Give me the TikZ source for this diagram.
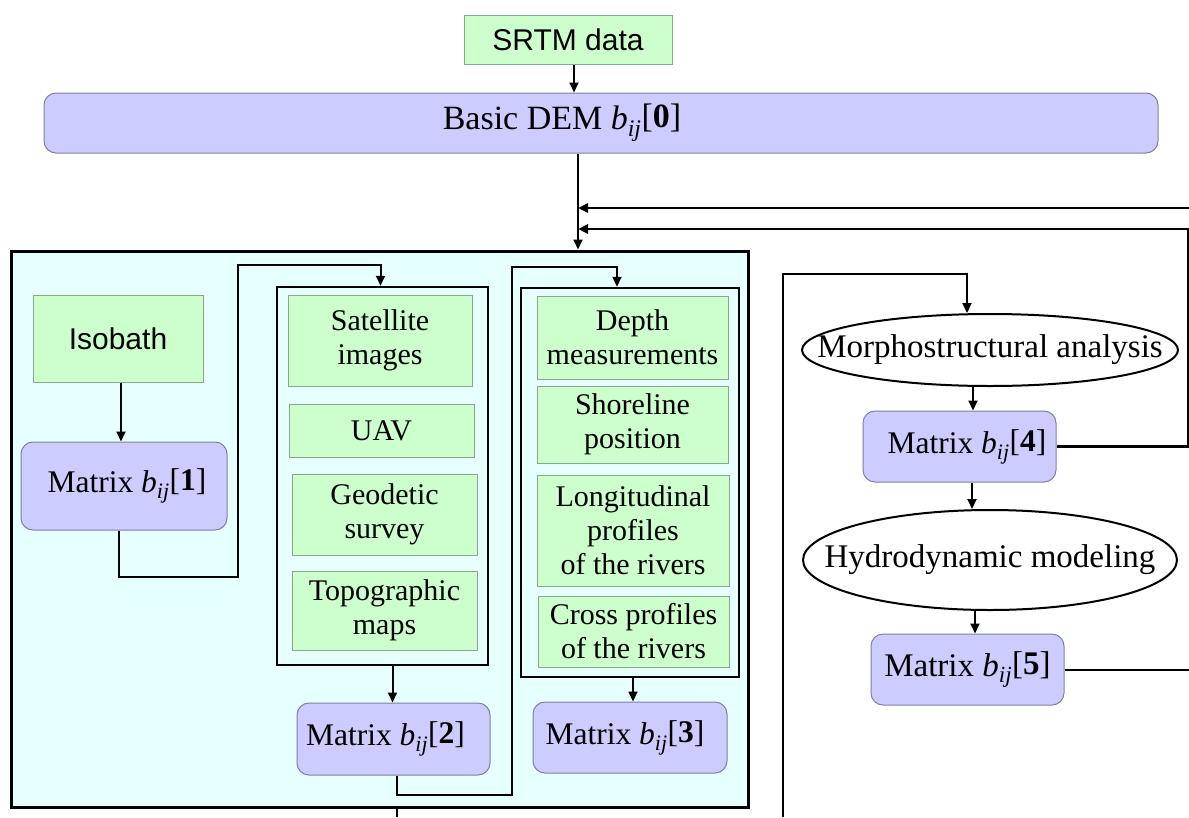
\documentclass[tikz,border=0pt]{standalone}
\usepackage{fontspec}
\setmainfont{Liberation Serif}
\newfontfamily\arialfont{Liberation Sans}
\usetikzlibrary{arrows.meta,shapes.geometric}
\definecolor{boxgreen}{HTML}{CCFFCC}
\definecolor{greenedge}{HTML}{8CA88C}
\definecolor{boxlav}{HTML}{CCCCFF}
\definecolor{lavedge}{HTML}{8080A0}
\definecolor{panel}{HTML}{E6FFFF}
% matrix label b_ij[k]
\newcommand\bij[1]{\textit{b}\textsubscript{\textit{ij}}\raisebox{2pt}{[\textbf{#1}]}}
\begin{document}
\begin{tikzpicture}[x=1pt,y=-1pt,
  src/.style={draw=greenedge, fill=boxgreen, line width=1pt, inner sep=0pt, align=center, font=\fontsize{30}{34}\selectfont},
  mat/.style={draw=lavedge, fill=boxlav, line width=1pt, rounded corners=12pt, inner sep=0pt, align=center, font=\fontsize{31.5}{36}\selectfont},
  grp/.style={draw=black, line width=2.5pt, inner sep=0pt},
  proc/.style={ellipse, draw=black, line width=2pt, inner sep=0pt},
  proctext/.style={font=\fontsize{33}{36}\selectfont, inner sep=0pt},
  link/.style={draw=black, line width=2pt},
  arr/.style={link, -{Triangle[length=10pt,width=9pt]}},
]
\useasboundingbox (0,0) rectangle (1189,817);

% top: source data and basic DEM
\node[src, minimum width=208pt, minimum height=49pt] (srtm) at (568,39.5) {\arialfont SRTM data};
\node[mat, font=\fontsize{34}{36}\selectfont, minimum width=1114pt, minimum height=60pt] (dem) at (601,123) {\hspace*{-78pt}Basic DEM \bij{0}};

% panel with the data groups
\node[draw=black, fill=panel, line width=3pt, inner sep=0pt, minimum width=737pt, minimum height=556pt] (panel) at (379.5,529) {};

\node[src, minimum width=170pt, minimum height=87pt] (iso) at (118,338.5) {\arialfont Isobath};
\node[mat, minimum width=206pt, minimum height=88pt] (m1) at (124,486) {\hspace*{6pt}Matrix \bij{1}};

\node[grp, minimum width=211pt, minimum height=378pt] (g1) at (382.5,476) {};
\node[src, minimum width=184pt, minimum height=91pt] (sat) at (380,340.5) {Satellite\\images};
\node[src, minimum width=185pt, minimum height=53pt] (uav) at (381.5,430.5) {UAV};
\node[src, minimum width=185pt, minimum height=81pt] (geo) at (384.5,514.5) {Geodetic\\survey};
\node[src, minimum width=185pt, minimum height=79pt] (topo) at (384.5,610.5) {Topographic\\maps};
\node[mat, minimum width=193pt, minimum height=72pt] (m2) at (393.5,739) {\hspace*{-16pt}Matrix \bij{2}};

\node[grp, minimum width=218pt, minimum height=389pt] (g2) at (630,482.5) {};
\node[src, minimum width=191pt, minimum height=83pt] (depth) at (632.5,337.5) {Depth\\measurements};
\node[src, minimum width=191pt, minimum height=77pt] (shore) at (632.5,424.5) {Shoreline\\position};
\node[src, minimum width=192pt, minimum height=111pt] (longi) at (633,530.5) {Longitudinal\\profiles\\of the rivers};
\node[src, minimum width=191pt, minimum height=71pt] (cross) at (633.5,631.5) {Cross profiles\\of the rivers};
\node[mat, minimum width=194pt, minimum height=71pt] (m3) at (630,737.5) {\hspace*{-10pt}Matrix \bij{3}};

% analysis column
\node[proc, minimum width=376pt, minimum height=72pt,
      label={[proctext]center:Morphostructural analysis}] (morph) at (990,350) {};
\node[mat, minimum width=193pt, minimum height=71pt] (m4) at (959.5,446.5) {\hspace*{15pt}Matrix \bij{4}};
\node[proc, minimum width=374pt, minimum height=100pt,
      label={[proctext]center:Hydrodynamic modeling}] (hydro) at (990,560) {};
\node[mat, font=\fontsize{33}{36}\selectfont, minimum width=193pt, minimum height=71pt] (m5) at (967.5,669.5) {Matrix \bij{5}};

% routing points
\coordinate (trunk) at (578,0);
\coordinate (ret1) at (1189,208);
\coordinate (ret2) at (1188,229);
\coordinate (ret3) at (1189,670);
\coordinate (j1) at (238,577);
\coordinate (j2) at (238,265);
\coordinate (j3) at (512,795);
\coordinate (j4) at (512,267);
\coordinate (out1) at (397,817);
\coordinate (out2) at (783,817);
\coordinate (j5) at (783,274);

% connectors
\draw[arr] ([xshift=6pt]srtm.south) -- ([xshift=6pt]srtm.south |- dem.north);
\draw[arr] (dem.south -| trunk) -- (panel.north -| trunk);
\draw[arr, line width=2.5pt] (ret1) -- (ret1 -| trunk);
\draw[arr, line width=2.5pt] (m4.east) -- (m4.east -| ret2) -- (ret2) -- (ret2 -| trunk);
\draw[link] (m5.east) -- (m5.east -| ret3);

\draw[arr] ([xshift=3pt]iso.south) -- ([xshift=3pt]iso.south |- m1.north);
\draw[arr] ([xshift=-5pt]m1.south) |- (j1) -- (j2) -| ([xshift=-2pt]g1.north);
\draw[arr] ([xshift=10pt]g1.south) -- ([xshift=10pt]g1.south |- m2.north);
\draw[arr] ([xshift=3.5pt]m2.south) |- (j3) -- (j4) -| ([xshift=-13pt]g2.north);
\draw[arr] ([xshift=3pt]g2.south) -- ([xshift=3pt]g2.south |- m3.north);
\draw[link] (panel.south -| out1) -- (out1);

\draw[arr] (out2) -- (j5) -| ([xshift=-23pt]morph.north);
\draw[arr] ([xshift=-17pt]morph.south) -- ([xshift=-17pt]morph.south |- m4.north);
\draw[arr] ([xshift=12.5pt]m4.south) -- ([xshift=12.5pt]m4.south |- hydro.north);
\draw[arr] ([xshift=7.5pt]m5.north |- hydro.south) -- ([xshift=7.5pt]m5.north);
\end{tikzpicture}
\end{document}
